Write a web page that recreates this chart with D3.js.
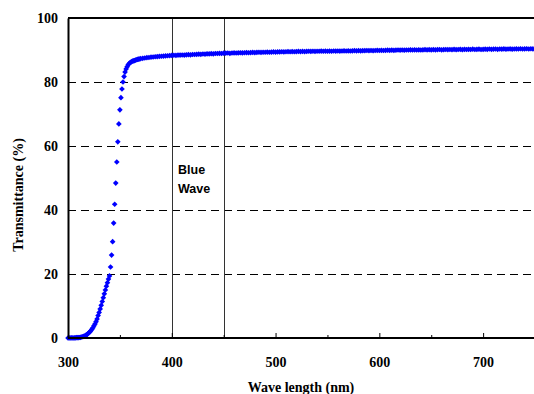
<!DOCTYPE html>
<html>
<head>
<meta charset="utf-8">
<script src="https://cdn.jsdelivr.net/npm/d3@7"></script>
<style>
  html, body { margin: 0; padding: 0; background: #fff; }
  svg { display: block; }
</style>
</head>
<body>
<svg id="chart" width="534" height="394"></svg>
<script>
// ---- Data ----
// Steep edge region, 1 nm steps
const edgeWavelengths = [300,301,302,303,304,305,306,307,308,309,310,311,312,313,314,315,316,317,318,319,
  320,321,322,323,324,325,326,327,328,329,330,331,332,333,334,335,336,337,338,339,
  340,341,342,343,344,345,346,347,348,349,350,351,352,353,354,355,356,357,358,359,
  360,361,362,363,364,365,366,367,368,369];
const edgeTransmittance = [0.0,0.05,0.0,0.05,0.05,0.0,0.05,0.05,0.1,0.1,0.1,0.15,0.2,0.3,0.4,0.5,0.6,0.8,1.0,1.3,
  1.6,1.9,2.3,2.7,3.2,3.8,4.4,5.1,5.9,7.0,8.0,9.1,10.2,11.4,12.6,13.8,15.0,16.2,17.3,18.4,
  19.4,22.2,25.9,30.1,35.9,41.8,48.4,55.0,61.3,66.9,71.3,75.1,77.8,80.0,81.7,83.1,84.1,84.8,85.4,85.8,
  86.1,86.3,86.5,86.6,86.7,86.85,86.95,87.05,87.15,87.2];
// Plateau region, 2 nm steps
const plateauWavelengths = [370,372,374,376,378,380,382,384,386,388,390,392,394,396,398,400,
  402,404,406,408,410,412,414,416,418,420,422,424,426,428,430,432,434,436,438,440,442,444,446,448,450,
  452,454,456,458,460,462,464,466,468,470,472,474,476,478,480,482,484,486,488,490,492,494,496,498,500,
  502,504,506,508,510,512,514,516,518,520,522,524,526,528,530,532,534,536,538,540,542,544,546,548,550,
  552,554,556,558,560,562,564,566,568,570,572,574,576,578,580,582,584,586,588,590,592,594,596,598,600,
  602,604,606,608,610,612,614,616,618,620,622,624,626,628,630,632,634,636,638,640,642,644,646,648,650,
  652,654,656,658,660,662,664,666,668,670,672,674,676,678,680,682,684,686,688,690,692,694,696,698,700,
  702,704,706,708,710,712,714,716,718,720,722,724,726,728,730,732,734,736,738,740,742,744,746,748,750];
const plateauTransmittance = [87.3,87.4,87.5,87.6,87.65,87.75,87.8,87.9,87.95,88.0,88.05,88.1,88.15,88.2,88.25,88.3,
  88.35,88.3,88.4,88.4,88.45,88.4,88.5,88.55,88.5,88.6,88.6,88.65,88.7,88.65,88.75,88.7,88.8,88.8,88.85,88.8,88.9,88.9,88.95,88.9,89.0,
  89.0,89.05,88.95,89.05,89.1,89.05,89.1,89.15,89.1,89.15,89.2,89.15,89.2,89.25,89.2,89.25,89.3,89.25,89.3,89.3,89.35,89.3,89.35,89.4,89.35,
  89.4,89.4,89.45,89.4,89.45,89.5,89.45,89.5,89.45,89.5,89.55,89.5,89.55,89.5,89.55,89.6,89.55,89.6,89.55,89.6,89.6,89.65,89.6,89.65,89.6,
  89.65,89.6,89.7,89.65,89.7,89.65,89.7,89.75,89.7,89.75,89.7,89.75,89.8,89.75,89.8,89.75,89.8,89.8,89.85,89.8,89.85,89.8,89.85,89.9,89.85,
  89.9,89.85,89.9,89.95,89.9,89.95,89.9,89.95,90.0,89.95,90.0,89.95,90.0,90.0,90.05,90.0,90.05,90.0,90.05,90.0,90.05,90.1,90.05,90.1,90.05,
  90.1,90.05,90.1,90.15,90.05,90.1,90.15,90.1,90.15,90.1,90.2,90.1,90.15,90.2,90.1,90.2,90.15,90.2,90.15,90.25,90.15,90.2,90.25,90.15,90.2,
  90.25,90.2,90.3,90.2,90.25,90.3,90.2,90.3,90.25,90.35,90.25,90.3,90.35,90.25,90.3,90.35,90.3,90.4,90.3,90.35,90.4,90.3,90.4,90.35,90.3];

const xMajorTicks = [300, 400, 500, 600, 700];
const xMinorTicks = [350, 450, 550, 650, 750];
const yTicks = [0, 20, 40, 60, 80, 100];
const yGridTicks = [20, 40, 60, 80];
const bandRange = [400, 450];
const bandLabel = ["Blue", "Wave"];
const xTitle = "Wave length (nm)";
const yTitle = "Transmittance (%)";

// ---- Drawing ----
(function () {
const svg = d3.select("#chart");
const pLeft = 68, pRight = 535, pTop = 18, pBottom = 338;
const x = d3.scaleLinear().domain([300, 750]).range([pLeft, pRight]);
const y = d3.scaleLinear().domain([0, 100]).range([pBottom, pTop]);

const serif = "'Liberation Serif', 'Times New Roman', serif";

// grid lines
svg.append("g").selectAll("line").data(yGridTicks).join("line")
  .attr("x1", pLeft).attr("x2", 534)
  .attr("y1", d => y(d) + 0.5).attr("y2", d => y(d) + 0.5)
  .attr("stroke", "#000").attr("stroke-width", 1)
  .attr("stroke-dasharray", "8,5");

// blue wave box
svg.append("rect")
  .attr("x", Math.round(x(bandRange[0])) + 0.5).attr("y", pTop)
  .attr("width", Math.round(x(bandRange[1])) - Math.round(x(bandRange[0])))
  .attr("height", pBottom - pTop)
  .attr("fill", "none").attr("stroke", "#333").attr("stroke-width", 1);

// data points
const points = edgeWavelengths.map((w, i) => [w, edgeTransmittance[i]])
  .concat(plateauWavelengths.map((w, i) => [w, plateauTransmittance[i]]));
const diamond = d3.symbol().type(d3.symbolSquare).size(16);
svg.append("g").selectAll("path").data(points).join("path")
  .attr("d", diamond)
  .attr("transform", d => `translate(${x(d[0])},${y(d[1])}) rotate(45)`)
  .attr("fill", "#0000ff");

// top border
svg.append("line").attr("x1", pLeft).attr("x2", 534).attr("y1", pTop).attr("y2", pTop)
  .attr("stroke", "#000").attr("stroke-width", 2);

// x axis
const xAxisMajor = d3.axisBottom(x).tickValues(xMajorTicks).tickSize(-5).tickPadding(0)
  .tickFormat(d3.format("d"));
const gx = svg.append("g").attr("transform", `translate(0,${pBottom})`).call(xAxisMajor);
gx.select(".domain").attr("d", `M${pLeft},0H534`).attr("stroke-width", 2);
gx.selectAll("text").attr("y", 29).attr("dy", 0)
  .style("font-family", serif).style("font-weight", "bold").style("font-size", "14px").attr("fill", "#000");
const xAxisMinor = d3.axisBottom(x).tickValues(xMinorTicks).tickSize(-3).tickFormat("");
const gxm = svg.append("g").attr("transform", `translate(0,${pBottom})`).call(xAxisMinor);
gxm.select(".domain").remove();

// y axis
const yAxis = d3.axisLeft(y).tickValues(yTicks).tickSize(0).tickPadding(10);
const gy = svg.append("g").attr("transform", `translate(${pLeft},0)`).call(yAxis);
gy.select(".domain").attr("stroke-width", 2);
gy.selectAll("text").style("font-family", serif).style("font-weight", "bold").style("font-size", "14px")
  .attr("fill", "#000").attr("dy", "0.33em");

// band label
const sans = "'Liberation Sans', Arial, sans-serif";
svg.append("text").attr("x", 178).attr("y", 174)
  .style("font-family", sans).style("font-weight", "bold").style("font-size", "12.5px").text(bandLabel[0]);
svg.append("text").attr("x", 178).attr("y", 193)
  .style("font-family", sans).style("font-weight", "bold").style("font-size", "12.5px").text(bandLabel[1]);

// axis titles
svg.append("text").attr("x", 301).attr("y", 392).attr("text-anchor", "middle")
  .style("font-family", serif).style("font-weight", "bold").style("font-size", "14px").text(xTitle);
svg.append("text").attr("transform", "translate(23,195) rotate(-90)").attr("text-anchor", "middle")
  .style("font-family", serif).style("font-weight", "bold").style("font-size", "14px").text(yTitle);
})();
</script>
</body>
</html>
